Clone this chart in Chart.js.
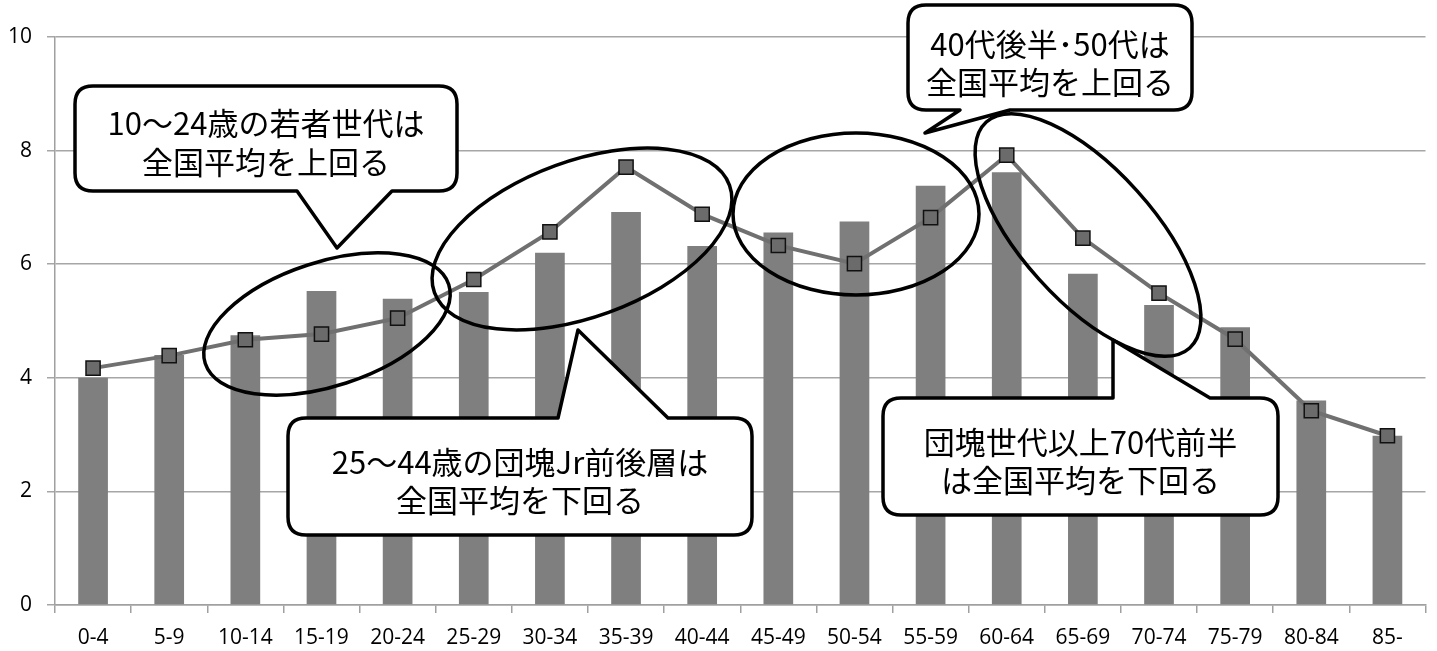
<!DOCTYPE html>
<html lang="ja">
<head>
<meta charset="utf-8">
<title>年齢別構成比</title>
<script src="https://cdn.jsdelivr.net/npm/chart.js@4/dist/chart.umd.min.js"></script>
<style>
  html, body { margin: 0; padding: 0; background: #fff; }
  #chart { display: block; }
</style>
</head>
<body>
<canvas id="chart" width="1437" height="651"></canvas>
<script>
'use strict';

// Dados do gráfico
var ageGroups = ['0-4', '5-9', '10-14', '15-19', '20-24', '25-29', '30-34', '35-39', '40-44',
    '45-49', '50-54', '55-59', '60-64', '65-69', '70-74', '75-79', '80-84', '85-'];
var barValues = [4.00, 4.40, 4.75, 5.53, 5.39, 5.51, 6.20, 6.92, 6.32,
    6.56, 6.75, 7.38, 7.62, 5.83, 5.28, 4.89, 3.60, 2.98];
var lineValues = [4.17, 4.39, 4.67, 4.77, 5.05, 5.73, 6.57, 7.71, 6.88,
    6.33, 6.01, 6.82, 7.92, 6.46, 5.49, 4.68, 3.42, 2.98];
var yTicks = [0, 2, 4, 6, 8, 10];

var tickFont = { family: '"Open Sans", "Noto Sans", sans-serif', size: 21 };
var noteFont = '31px "Noto Sans CJK JP", sans-serif';

// Comentários (posições em pixels do canvas)
var ellipses = [
    { x: 327, y: 324, a: 128, b: 62, rot: -18 },
    { x: 582, y: 239, a: 157, b: 78, rot: -20 },
    { x: 856, y: 214, a: 123, b: 81, rot: 0 },
    { x: 1088, y: 235, a: 152, b: 66, rot: 48 }
];
var callouts = [
    { x: 75, y: 86, w: 382, h: 105, side: 'bottom', p1: 392, p2: 297, tip: [337, 248],
      lines: ['10〜24歳の若者世代は', '全国平均を上回る'], ty: [123, 162] },
    { x: 288, y: 418, w: 464, h: 117, side: 'top', p1: 558, p2: 668, tip: [578, 330],
      lines: ['25〜44歳の団塊Jr前後層は', '全国平均を下回る'], ty: [462, 500] },
    { x: 908, y: 5, w: 284, h: 105, side: 'bottom', p1: 1010, p2: 960, tip: [925, 133],
      lines: ['40代後半･50代は', '全国平均を上回る'], ty: [44, 82] },
    { x: 883, y: 398, w: 395, h: 117, side: 'top', p1: 1113, p2: 1210, tip: [1113, 340],
      lines: ['団塊世代以上70代前半', 'は全国平均を下回る'], ty: [442, 480] }
];

function drawCallout(ctx, c) {
    var r = 18;
    var x0 = c.x, y0 = c.y, x1 = c.x + c.w, y1 = c.y + c.h;
    ctx.beginPath();
    ctx.moveTo(x0 + r, y0);
    if (c.side === 'top') {
        ctx.lineTo(c.p1, y0);
        ctx.lineTo(c.tip[0], c.tip[1]);
        ctx.lineTo(c.p2, y0);
    }
    ctx.lineTo(x1 - r, y0);
    ctx.quadraticCurveTo(x1, y0, x1, y0 + r);
    ctx.lineTo(x1, y1 - r);
    ctx.quadraticCurveTo(x1, y1, x1 - r, y1);
    if (c.side === 'bottom') {
        ctx.lineTo(c.p1, y1);
        ctx.lineTo(c.tip[0], c.tip[1]);
        ctx.lineTo(c.p2, y1);
    }
    ctx.lineTo(x0 + r, y1);
    ctx.quadraticCurveTo(x0, y1, x0, y1 - r);
    ctx.lineTo(x0, y0 + r);
    ctx.quadraticCurveTo(x0, y0, x0 + r, y0);
    ctx.closePath();
    ctx.fillStyle = '#fff';
    ctx.fill();
    ctx.lineWidth = 3.5;
    ctx.lineJoin = 'round';
    ctx.strokeStyle = '#000';
    ctx.stroke();

    ctx.fillStyle = '#000';
    ctx.font = noteFont;
    ctx.textAlign = 'center';
    ctx.textBaseline = 'middle';
    for (var i = 0; i < c.lines.length; i++) {
        ctx.fillText(c.lines[i], x0 + c.w / 2, c.ty[i]);
    }
}

var notesPlugin = {
    id: 'notes',
    afterDatasetsDraw: function(chart) {
        var ctx = chart.ctx;
        ctx.save();
        ellipses.forEach(function(e) {
            ctx.beginPath();
            ctx.ellipse(e.x, e.y, e.a, e.b, e.rot * Math.PI / 180, 0, Math.PI * 2);
            ctx.lineWidth = 3.5;
            ctx.strokeStyle = '#000';
            ctx.stroke();
        });
        callouts.forEach(function(c) { drawCallout(ctx, c); });
        ctx.restore();
    }
};

new Chart(document.getElementById('chart'), {
    type: 'bar',
    data: {
        labels: ageGroups,
        datasets: [{
            type: 'line',
            data: lineValues,
            order: 0,
            borderColor: '#707070',
            borderWidth: 4,
            tension: 0,
            pointStyle: 'rect',
            pointRadius: 10,
            pointBackgroundColor: '#6b6b6b',
            pointBorderColor: '#111',
            pointBorderWidth: 1.5
        }, {
            type: 'bar',
            data: barValues,
            order: 1,
            backgroundColor: '#7f7f7f',
            barPercentage: 0.39,
            categoryPercentage: 1
        }]
    },
    options: {
        responsive: false,
        animation: false,
        devicePixelRatio: 1,
        layout: { padding: { top: 37, right: 10, left: 0, bottom: 0 } },
        plugins: {
            legend: { display: false },
            title: { display: false },
            tooltip: { enabled: false }
        },
        scales: {
            x: {
                grid: { offset: true, drawOnChartArea: false, tickLength: 8, color: '#a0a0a0', lineWidth: 1.5 },
                border: { color: '#a0a0a0', width: 1.5 },
                ticks: { font: tickFont, color: '#000', padding: 12, maxRotation: 0, autoSkip: false },
                afterFit: function(s) { s.height = 46; }
            },
            y: {
                min: 0,
                max: 10,
                afterBuildTicks: function(s) {
                    s.ticks = yTicks.map(function(v) { return { value: v }; });
                },
                grid: { color: '#a6a6a6', lineWidth: 1.5, tickLength: 8 },
                border: { color: '#a0a0a0', width: 1.5 },
                ticks: { font: tickFont, color: '#000', padding: 15 },
                afterFit: function(s) { s.width = 55; }
            }
        }
    },
    plugins: [notesPlugin]
});
</script>
</body>
</html>
